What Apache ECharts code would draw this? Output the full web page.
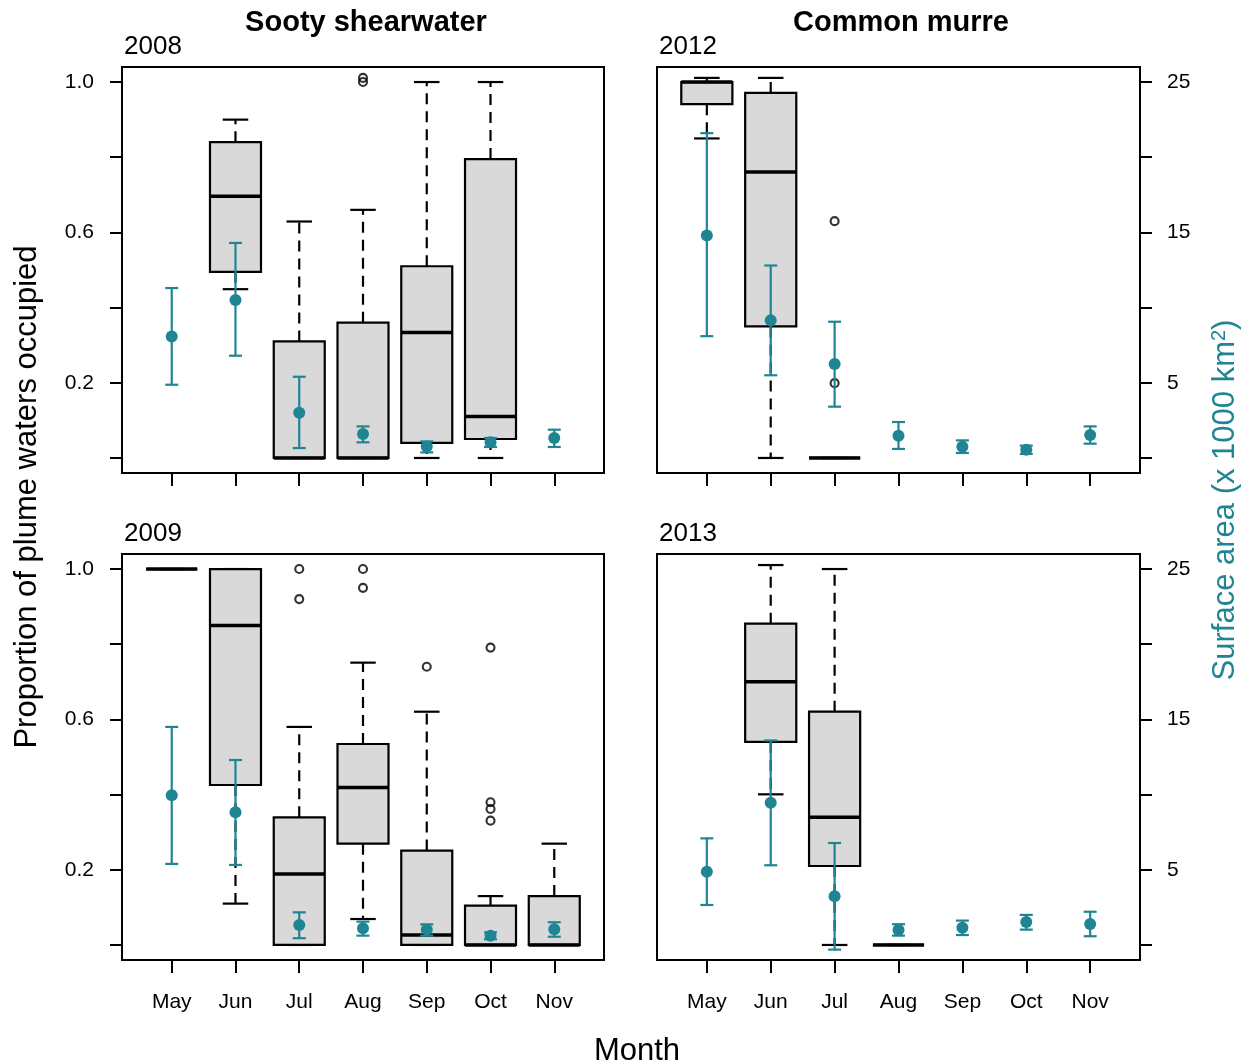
<!DOCTYPE html>
<html><head><meta charset="utf-8">
<script src="https://cdn.jsdelivr.net/npm/echarts@6/dist/echarts.min.js"></script>
<style>html,body{margin:0;padding:0;background:#fff}#c{width:1249px;height:1064px}</style>
</head><body><div id="c"></div><script>
// ---------- DATA ----------
const months = ['May', 'Jun', 'Jul', 'Aug', 'Sep', 'Oct', 'Nov'];
const propTicks = [0, 0.2, 0.4, 0.6, 0.8, 1.0];
const propLabels = [0.2, 0.6, 1.0];
const areaTicks = [0, 5, 10, 15, 20, 25];
const areaLabels = [5, 15, 25];

// boxplot stats per month: [lowWhisker, Q1, median, Q3, highWhisker] (null = no box)
const box2008 = [null, [0.449, 0.495, 0.696, 0.840, 0.900], [0, 0, 0, 0.310, 0.629], [0, 0, 0, 0.360, 0.660], [0, 0.040, 0.334, 0.510, 1.0], [0, 0.0505, 0.110, 0.795, 1.0], null];
const box2009 = [[1.0, 1.0, 1.0, 1.0, 1.0], [0.110, 0.4255, 0.850, 1.0, 1.0], [0, 0, 0.189, 0.3395, 0.580], [0.069, 0.2695, 0.419, 0.5346, 0.751], [0, 0, 0.0266, 0.251, 0.6205], [0, 0, 0, 0.1046, 0.130], [0, 0, 0, 0.130, 0.2695]];
const box2012 = [[0.850, 0.941, 1.0, 1.0, 1.011], [0, 0.350, 0.761, 0.971, 1.011], [0, 0, 0, 0, 0], null, null, null, null];
const box2013 = [null, [0.4007, 0.540, 0.700, 0.8546, 1.0106], [0, 0.210, 0.3395, 0.6205, 1.0], [0, 0, 0, 0, 0], null, null, null];

// outliers: [month, value]
const out2008 = [['Aug', 1.011], ['Aug', 1.0]];
const out2009 = [['Jul', 1.0], ['Jul', 0.92], ['Aug', 1.0], ['Aug', 0.95], ['Sep', 0.74], ['Oct', 0.791], ['Oct', 0.3795], ['Oct', 0.3617], ['Oct', 0.3307]];
const out2012 = [['Jul', 0.630], ['Jul', 0.199]];
const out2013 = [];

// surface area (x 1000 km2): mean, lower, upper
const area2008 = [8.08, 10.5, 3.0, 1.6, 0.77, 1.04, 1.33];
const areaLo2008 = [4.87, 6.8, 0.66, 1.04, 0.37, 0.73, 0.73];
const areaHi2008 = [11.3, 14.3, 5.4, 2.1, 1.1, 1.33, 1.88];
const area2009 = [9.95, 8.82, 1.33, 1.11, 1.02, 0.62, 1.04];
const areaLo2009 = [5.39, 5.32, 0.45, 0.62, 0.62, 0.38, 0.55];
const areaHi2009 = [14.5, 12.3, 2.17, 1.55, 1.37, 0.84, 1.51];
const area2012 = [14.8, 9.15, 6.25, 1.48, 0.75, 0.55, 1.53];
const areaLo2012 = [8.1, 5.5, 3.41, 0.60, 0.33, 0.27, 0.95];
const areaHi2012 = [21.6, 12.8, 9.06, 2.39, 1.17, 0.82, 2.1];
const area2013 = [4.87, 9.46, 3.24, 1.0, 1.15, 1.53, 1.40];
const areaLo2013 = [2.66, 5.3, -0.31, 0.62, 0.66, 1.02, 0.58];
const areaHi2013 = [7.09, 13.6, 6.78, 1.38, 1.62, 2.0, 2.21];

// ---------- STYLE / LAYOUT ----------
const TEAL = '#1f8593';
const FONT = "'Liberation Sans', Arial, Helvetica, sans-serif";
const BOX_HALF = 0.4, STAPLE_HALF = 0.2, ERR_CAP_PX = 6.5;

const panels = [
  { year: '2008', boxes: box2008, outs: out2008, m: area2008, lo: areaLo2008, hi: areaHi2008, grid: { left: 122, top: 67, width: 482, height: 406 }, leftAxis: true, monthLabels: false },
  { year: '2012', boxes: box2012, outs: out2012, m: area2012, lo: areaLo2012, hi: areaHi2012, grid: { left: 657, top: 67, width: 483, height: 406 }, leftAxis: false, monthLabels: false },
  { year: '2009', boxes: box2009, outs: out2009, m: area2009, lo: areaLo2009, hi: areaHi2009, grid: { left: 122, top: 554, width: 482, height: 406 }, leftAxis: true, monthLabels: true },
  { year: '2013', boxes: box2013, outs: out2013, m: area2013, lo: areaLo2013, hi: areaHi2013, grid: { left: 657, top: 554, width: 483, height: 406 }, leftAxis: false, monthLabels: true }
];

function boxRender(params, api) {
  const x = api.value(0), lo = api.value(1), q1 = api.value(2), med = api.value(3), q3 = api.value(4), hi = api.value(5);
  const c = (a, b) => api.coord([a, b]);
  const dash = { stroke: '#000', lineWidth: 2.2, lineDash: [11, 7], fill: null };
  const solid = { stroke: '#000', lineWidth: 2.2, fill: null };
  const pHi = c(x, hi), pQ3 = c(x, q3), pQ1 = c(x, q1), pLo = c(x, lo);
  const sHiL = c(x - STAPLE_HALF, hi), sHiR = c(x + STAPLE_HALF, hi);
  const sLoL = c(x - STAPLE_HALF, lo), sLoR = c(x + STAPLE_HALF, lo);
  const bTL = c(x - BOX_HALF, q3), bBR = c(x + BOX_HALF, q1);
  const mL = c(x - BOX_HALF, med), mR = c(x + BOX_HALF, med);
  return {
    type: 'group',
    children: [
      { type: 'line', shape: { x1: pQ3[0], y1: pQ3[1], x2: pHi[0], y2: pHi[1] }, style: dash },
      { type: 'line', shape: { x1: pQ1[0], y1: pQ1[1], x2: pLo[0], y2: pLo[1] }, style: dash },
      { type: 'line', shape: { x1: sHiL[0], y1: sHiL[1], x2: sHiR[0], y2: sHiR[1] }, style: solid },
      { type: 'line', shape: { x1: sLoL[0], y1: sLoL[1], x2: sLoR[0], y2: sLoR[1] }, style: solid },
      { type: 'rect', shape: { x: bTL[0], y: bTL[1], width: bBR[0] - bTL[0], height: bBR[1] - bTL[1] }, style: { fill: '#d9d9d9', stroke: '#000', lineWidth: 2.2 } },
      { type: 'line', shape: { x1: mL[0], y1: mL[1], x2: mR[0], y2: mR[1] }, style: { stroke: '#000', lineWidth: 3.5 } }
    ]
  };
}

function errRender(params, api) {
  const x = api.value(0);
  const a = api.coord([x, api.value(1)]), b = api.coord([x, api.value(2)]);
  const st = { stroke: TEAL, lineWidth: 2.2 };
  return {
    type: 'group',
    children: [
      { type: 'line', shape: { x1: a[0], y1: a[1], x2: b[0], y2: b[1] }, style: st },
      { type: 'line', shape: { x1: a[0] - ERR_CAP_PX, y1: a[1], x2: a[0] + ERR_CAP_PX, y2: a[1] }, style: st },
      { type: 'line', shape: { x1: b[0] - ERR_CAP_PX, y1: b[1], x2: b[0] + ERR_CAP_PX, y2: b[1] }, style: st }
    ]
  };
}

const grid = [], xAxis = [], yAxis = [], series = [];
const tickStyle = { color: '#000', width: 2 };
const labelStyle = { color: '#000', fontSize: 21, fontFamily: FONT };

panels.forEach((p, i) => {
  grid.push(Object.assign({ show: true, borderColor: '#000', borderWidth: 2, containLabel: false, outerBoundsMode: 'none' }, p.grid));
  xAxis.push({
    type: 'value', gridIndex: i, min: 0.22, max: 7.78, position: 'bottom',
    axisLine: { show: false, onZero: false },
    splitLine: { show: false },
    axisTick: { show: true, length: 13, lineStyle: tickStyle, customValues: months.map((m, k) => k + 1) },
    axisLabel: Object.assign({ show: p.monthLabels, margin: 32, customValues: months.map((m, k) => k + 1), formatter: v => months[Math.round(v) - 1] }, labelStyle)
  });
  yAxis.push({
    type: 'value', gridIndex: i, min: -0.04, max: 1.04, position: 'left', show: p.leftAxis,
    axisLine: { show: false, onZero: false },
    splitLine: { show: false },
    axisTick: { show: true, length: 12, lineStyle: tickStyle, customValues: propTicks },
    axisLabel: Object.assign({ margin: 28, customValues: propLabels, formatter: v => v.toFixed(1) }, labelStyle)
  });
  yAxis.push({
    type: 'value', gridIndex: i, min: -1, max: 26, position: 'right', show: !p.leftAxis,
    axisLine: { show: false, onZero: false },
    splitLine: { show: false },
    axisTick: { show: true, length: 12, lineStyle: tickStyle, customValues: areaTicks },
    axisLabel: Object.assign({ margin: 27, customValues: areaLabels, formatter: v => String(v) }, labelStyle)
  });

  const boxData = [];
  p.boxes.forEach((b, k) => { if (b) boxData.push([k + 1].concat(b)); });
  series.push({ type: 'custom', xAxisIndex: i, yAxisIndex: 2 * i, renderItem: boxRender, data: boxData, encode: { x: 0, y: [1, 2, 3, 4, 5] }, z: 2, silent: true });
  series.push({
    type: 'scatter', xAxisIndex: i, yAxisIndex: 2 * i, symbol: 'circle', symbolSize: 8, z: 3, silent: true,
    itemStyle: { color: 'rgba(0,0,0,0)', borderColor: '#000', borderWidth: 2.1 },
    data: p.outs.map(o => [months.indexOf(o[0]) + 1, o[1]])
  });
  series.push({
    type: 'custom', xAxisIndex: i, yAxisIndex: 2 * i + 1, renderItem: errRender, z: 4, silent: true,
    data: months.map((m, k) => [k + 1, p.lo[k], p.hi[k]]), encode: { x: 0, y: [1, 2] }
  });
  series.push({
    type: 'scatter', xAxisIndex: i, yAxisIndex: 2 * i + 1, symbol: 'circle', symbolSize: 12, z: 5, silent: true,
    itemStyle: { color: TEAL, opacity: 1 },
    data: months.map((m, k) => [k + 1, p.m[k]])
  });
});

const graphic = [
  { type: 'text', x: 366, y: 23, style: { text: 'Sooty shearwater', font: "bold 29px " + FONT, fill: '#000', align: 'center', verticalAlign: 'middle' } },
  { type: 'text', x: 901, y: 23, style: { text: 'Common murre', font: "bold 29px " + FONT, fill: '#000', align: 'center', verticalAlign: 'middle' } },
  { type: 'text', x: 637, y: 1051, style: { text: 'Month', font: "31px " + FONT, fill: '#000', align: 'center', verticalAlign: 'middle' } },
  { type: 'text', x: 27, y: 497, rotation: Math.PI / 2, style: { text: 'Proportion of plume waters occupied', font: "31px " + FONT, fill: '#000', align: 'center', verticalAlign: 'middle' } },
  { type: 'text', x: 1225, y: 500, rotation: Math.PI / 2, style: {
      text: '{a|Surface area (x 1000 km}{s|2}{a|)}', align: 'center', verticalAlign: 'middle',
      rich: { a: { fontSize: 31, fontFamily: FONT, fill: TEAL, color: TEAL }, s: { fontSize: 20, fontFamily: FONT, fill: TEAL, color: TEAL, verticalAlign: 'top' } }
  } }
];
panels.forEach(p => {
  graphic.push({ type: 'text', x: p.grid.left + 2, y: p.grid.top - 20, style: { text: p.year, font: "26px " + FONT, fill: '#000', align: 'left', verticalAlign: 'middle' } });
});

const chart = echarts.init(document.getElementById('c'), null, { renderer: 'canvas' });
chart.setOption({ animation: false, backgroundColor: '#fff', grid, xAxis, yAxis, series, graphic });
</script></body></html>
